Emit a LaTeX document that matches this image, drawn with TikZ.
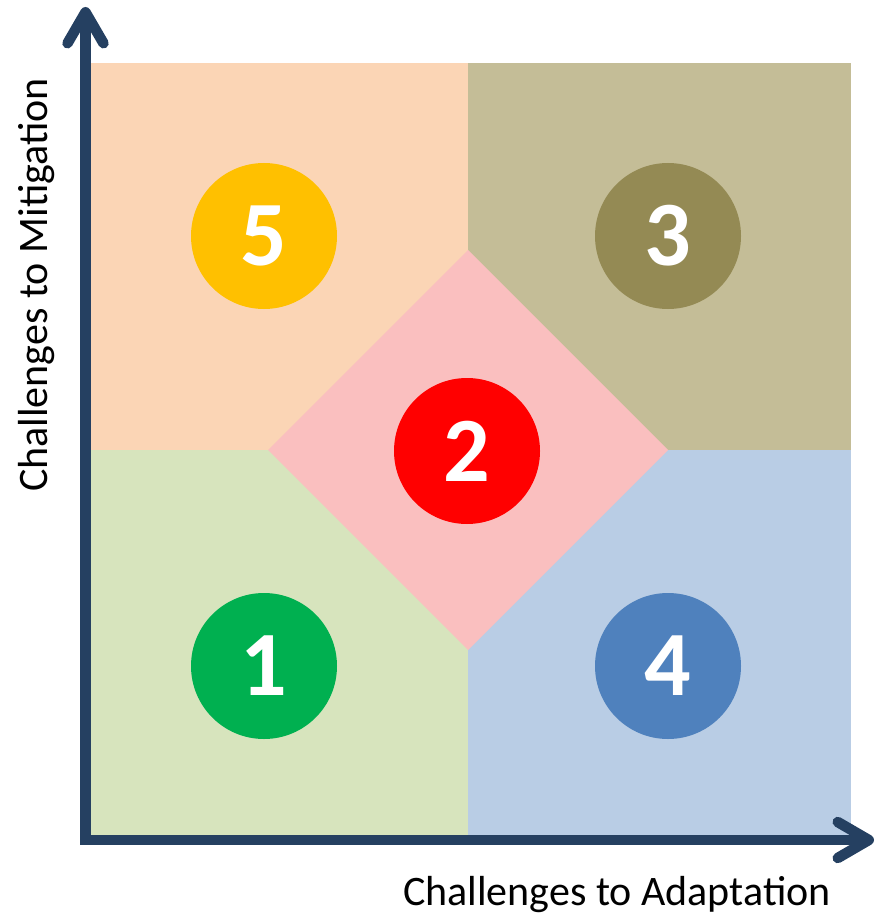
\documentclass[tikz,border=0pt]{standalone}
\usepackage{fontspec}
\setmainfont{Carlito}
\usetikzlibrary{arrows.meta, positioning}
\definecolor{peach}{HTML}{FBD5B5}
\definecolor{tan}{HTML}{C4BD97}
\definecolor{leaf}{HTML}{D7E4BD}
\definecolor{sky}{HTML}{B9CDE5}
\definecolor{rose}{HTML}{FABFBF}
\definecolor{axisblue}{HTML}{254061}
\definecolor{sspone}{HTML}{00B050}
\definecolor{ssptwo}{HTML}{FF0000}
\definecolor{sspthree}{HTML}{948A54}
\definecolor{sspfour}{HTML}{4F81BD}
\definecolor{sspfive}{HTML}{FFC000}
\tikzset{
axis/.style={line width=10.5pt, draw=axisblue, line join=miter}, % the two axes
barb/.tip={Straight Barb[length=31pt, width=36pt, round]}, % open arrow heads of the axes
badge/.style={circle, minimum size=146pt, inner sep=0pt, text=white,
  font=\fontsize{92}{92}\selectfont\bfseries}, % the numbered circles
axislabel/.style={inner sep=0pt, anchor=base, font=\fontsize{42}{44}\selectfont}, % axis titles
}

\begin{document}
\begin{tikzpicture}[x=1pt, y=-1pt]
    \useasboundingbox (0,0) rectangle (876,920);

    % Quadrants
    \fill[peach] (91,63) rectangle (468,450);
    \fill[tan] (468,63) rectangle (851,450);
    \fill[leaf] (91,450) rectangle (468,835);
    \fill[sky] (468,450) rectangle (851,835);
    % Middle of the road
    \fill[rose] (268,450) -- (468,250) -- (668,450) -- (468,650) -- cycle;

    % Scenarios
    \node[badge, fill=sspfive] (s5) at (264,236) {5};
    \node[badge, fill=sspthree] (s3) at (668,236) {3};
    \node[badge, fill=ssptwo] (s2) at (467,451) {2};
    \node[badge, fill=sspone] (s1) at (264,666) {1};
    \node[badge, fill=sspfour] (s4) at (668,666) {4};

    % Axes
    \coordinate (origin) at (85.5,840);
    \coordinate (ytop) at (85.5,7);
    \coordinate (xend) at (874,840);
    \draw[axis, barb-barb] (ytop) -- (origin) -- (xend);
    \node[axislabel, rotate=90] (ylab) at (47,285) {Challenges to Mitigation};
    \node[axislabel] (xlab) at (617,905) {Challenges to Adaptation};
\end{tikzpicture}
\end{document}
